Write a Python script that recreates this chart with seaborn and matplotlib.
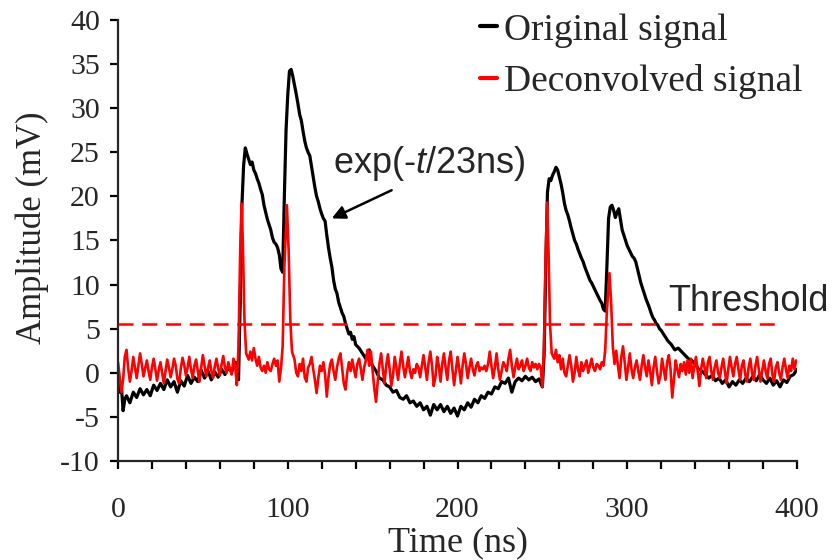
import matplotlib
matplotlib.use("Agg")
import matplotlib.pyplot as plt
import matplotlib.ticker as mticker
import seaborn as sns
import pandas as pd

# ---------------- data ----------------
t_orig = [0, 1, 2, 3, 4, 5, 7, 9, 11, 13, 15, 17, 19, 21, 23, 25, 27, 29, 31, 33, 35, 37, 39,
          41, 43, 45, 47, 49, 51, 53, 55, 57, 59, 61, 63, 65, 67, 69, 70, 71,
          72, 73, 74, 75, 76, 77, 78, 79, 80, 81, 82, 83, 84, 85, 86, 87, 88, 89, 90,
          91, 92, 93, 94, 95, 96, 97, 98, 99, 100, 101, 102, 103, 104, 105, 106, 107,
          108, 109, 110, 111, 112, 113, 114, 115, 116, 117, 118, 119, 120, 121, 122,
          123, 124, 125, 126, 127, 128, 129, 130, 131, 132, 133, 134, 135, 136, 137,
          138, 139, 140, 142, 144, 146, 148, 149, 150, 152, 154, 156, 158, 160, 162,
          164, 166, 168, 170, 172, 174, 176, 178, 180, 182, 184, 186, 188, 190, 192,
          194, 196, 198, 200, 202, 204, 206, 208, 210, 212, 214, 216, 218, 220, 222,
          224, 226, 228, 230, 232, 234, 236, 238, 240, 242, 244, 246, 248, 250,
          251, 252, 253, 254, 255, 256, 257, 258, 259, 260, 261, 262, 263, 264, 265,
          266, 267, 268, 269, 270, 271, 272, 273, 274, 275, 276, 277, 278, 279, 280,
          281, 282, 283, 284, 285, 286, 287, 288, 289, 290, 291, 292, 293, 294, 295,
          296, 297, 298, 299, 300, 301, 302, 303, 304, 305, 306, 307, 308, 309, 310,
          311, 312, 313, 314, 315, 316, 317, 318, 319, 320, 322, 324, 326, 328, 330,
          332, 334, 336, 338, 340, 342, 344, 346, 348, 350, 352, 354, 356, 358, 360,
          362, 364, 366, 368, 370, 372, 374, 376, 378, 380, 382, 384, 386, 388, 390,
          392, 394, 396, 398, 400]
v_orig = [-1.0, -2.2, -1.5, -4.3, -3.0, -2.6, -3.4, -2.2, -2.8, -1.8, -2.5, -1.9, -2.6, -1.4,
          -2.0, -1.2, -1.9, -0.8, -1.6, -1.0, -2.2, -0.9, -1.5, -0.3, -1.2, -0.5, -1.0, 0.3,
          -0.6, 0.2, -0.8, 0.1, -0.5, 0.4, -0.2, 0.6, 0.1, 1.2, 1.0, -0.8,
          8.0, 19.0, 23.5, 25.5, 24.8, 24.2, 23.6, 23.9, 23.0, 22.6, 22.0, 21.5, 20.8, 20.2,
          19.0, 18.2, 17.4, 16.8, 16.2, 15.3, 14.8, 14.6, 14.2, 13.4, 11.8, 11.4, 20.0, 27.5,
          31.5, 34.2, 34.4, 33.6, 32.6, 31.6, 30.5, 29.3, 28.6, 27.4, 26.3, 25.5, 25.0, 24.6,
          23.4, 22.2, 21.0, 20.0, 19.4, 18.6, 18.0, 17.5, 17.2, 15.6, 14.2, 13.0, 12.0, 10.5,
          9.5, 9.0, 8.0, 7.4, 6.8, 6.4, 5.6, 5.0, 4.4, 4.6, 3.8, 4.1, 3.2, 2.8, 2.2, 1.6,
          2.6, 1.2, 0.8, 0.2, -0.6, -0.8, -1.4, -1.6, -2.2, -2.0, -2.8, -3.0, -2.6, -3.4,
          -3.2, -3.8, -3.4, -4.2, -3.8, -4.8, -3.6, -4.2, -3.6, -4.4, -3.8, -4.6, -4.0, -4.9,
          -3.8, -4.2, -3.4, -3.9, -3.0, -3.4, -2.6, -2.9, -2.2, -2.4, -1.6, -1.8, -1.0, -1.2,
          -0.6, -2.2, -1.0, -0.6, -0.9, -0.4, -0.8, -0.5, -1.0, -0.7, -1.6,
          2.0, 12.0, 20.5, 22.0, 21.8, 22.4, 22.8, 23.3, 23.0, 22.2, 21.4, 20.4, 19.2, 18.4,
          17.9, 17.2, 16.4, 15.7, 15.0, 14.6, 14.0, 13.5, 13.0, 12.6, 12.0, 11.5, 11.0, 10.5,
          10.2, 9.8, 9.4, 9.0, 8.6, 8.2, 7.9, 7.2, 7.0, 12.0, 17.5, 18.8, 19.0, 18.4, 17.6,
          18.2, 18.6, 17.4, 16.2, 15.6, 15.0, 14.4, 14.0, 13.6, 13.2, 13.0, 12.6, 11.8, 11.0,
          10.2, 9.6, 9.0, 8.4, 7.9, 7.4, 6.8, 6.3, 6.0, 5.6, 5.4, 5.0, 4.8, 4.2, 3.6, 3.2,
          2.6, 2.8, 2.4, 2.0, 1.6, 1.4, 1.0, 0.4, 0.2, -0.2, -0.6, -0.3, -0.9, -0.6, -1.2,
          -0.8, -1.6, -1.0, -1.4, -0.8, -1.2, -0.6, -1.0, -0.4, -0.9, -0.2, -0.8, -1.2, -0.6,
          -1.4, -0.9, -1.6, -0.8, -1.1, -0.4, -0.2, 0.4]

t_dec = [0, 1, 2, 3, 4, 5, 6, 7, 8, 9, 10, 11, 12, 13, 14, 15, 16, 17, 18, 19, 20, 21, 22, 23,
         24, 25, 26, 27, 28, 29, 30, 31, 32, 33, 34, 35, 36, 37, 38, 39, 40, 41, 42, 43, 44,
         45, 46, 47, 48, 49, 50, 51, 52, 53, 54, 55, 56, 57, 58, 59, 60, 61, 62, 63, 64, 65,
         66, 67, 68, 69, 70, 71, 72, 72.8, 73.5, 74.5, 75.5, 77, 78, 79, 80, 81, 82, 83, 84,
         85, 86, 87, 88, 89, 90, 91, 92, 93, 94, 95, 96, 97, 98, 99.5, 100.5, 101.5, 102.5,
         104, 105, 106, 107, 108, 109, 110, 111, 112, 113, 114, 115, 116, 117, 118, 119, 120,
         121, 122, 123, 124, 125, 126, 127, 128, 129, 130, 131, 132, 133, 134, 135, 136, 137,
         138, 139, 140, 141, 142, 143, 144, 145, 146, 147, 148, 149, 150, 151, 152, 153, 154,
         155, 156, 157, 158, 159, 160, 161, 162, 163, 164, 165, 166, 167, 168, 169, 170, 171,
         172, 173, 174, 175, 176, 177, 178, 179, 180, 181, 182, 183, 184, 185, 186, 187, 188,
         189, 190, 191, 192, 193, 194, 195, 196, 197, 198, 199, 200, 201, 202, 203, 204, 205,
         206, 207, 208, 209, 210, 211, 212, 213, 214, 215, 216, 217, 218, 219, 220, 221, 222,
         223, 224, 225, 226, 227, 228, 229, 230, 231, 232, 233, 234, 235, 236, 237, 238, 239,
         240, 241, 242, 243, 244, 245, 246, 247, 248, 249, 250, 251, 252, 252.8, 253.6, 254.5,
         255.5, 257, 258, 259, 260, 261, 262, 263, 264, 265, 266, 267, 268, 269, 270, 271, 272,
         273, 274, 275, 276, 277, 278, 279, 280, 281, 282, 283, 284, 285, 286, 287, 288, 289.5,
         290.5, 291.5, 292.5, 293.5, 294.5, 295.5, 296.5, 297.5, 298.5, 299.5, 300.5, 301.5,
         302.5, 303.5, 304.5, 305.5, 306.5, 307.5, 308.5, 309.5, 310.5, 311.5, 312.5, 313.5,
         314.5, 315.5, 316.5, 317.5, 318.5, 319.5, 320.5, 321.5, 322.5, 323.5, 324.5, 325.5,
         326.5, 327.5, 328.5, 329.5, 330.5, 331.5, 332.5, 333.5, 334.5, 335.5, 336.5, 337.5,
         338.5, 339.5, 340.5, 341.5, 342.5, 343.5, 344.5, 345.5, 346.5, 347.5, 348.5, 349.5,
         350.5, 351.5, 352.5, 353.5, 354.5, 355.5, 356.5, 357.5, 358.5, 359.5, 360.5, 361.5,
         362.5, 363.5, 364.5, 365.5, 366.5, 367.5, 368.5, 369.5, 370.5, 371.5, 372.5, 373.5,
         374.5, 375.5, 376.5, 377.5, 378.5, 379.5, 380.5, 381.5, 382.5, 383.5, 384.5, 385.5,
         386.5, 387.5, 388.5, 389.5, 390.5, 391.5, 392.5, 393.5, 394.5, 395.5, 396.5, 397.5,
         398.5, 399.5]
v_dec = [1.2, -0.5, -2.2, -0.8, 1.8, 2.6, 0.5, -1.0, 0.2, 1.8, 0.6, -0.6, 0.8, 2.2, 1.0, -0.4,
         0.5, 1.4, 0.2, -0.8, 0.6, 1.6, 0.4, -0.9, 0.3, 1.2, 0.0, -1.2, 0.2, 1.5, 0.6, -0.5,
         0.4, 1.6, 0.8, -0.7, -1.2, 0.5, 1.7, 0.9, -0.3, 0.6, 1.8, 0.4, -0.6, 0.8, 1.5, 0.2,
         -1.0, 0.6, 2.0, 0.8, -0.4, 0.5, 1.4, 0.2, -0.6, 0.7, 1.6, 0.5, -0.3, 0.9, 1.9, 0.6,
         0.0, 1.2, 0.4, -0.2, 1.6, 0.8, -1.4, 3.0, 14.0, 19.2, 15.0, 6.0, 2.2, 1.5, 2.4, 1.4,
         2.8, 1.6, 0.8, 1.8, 0.6, 0.2, 0.8, 0.0, 1.2, 0.4, 0.2, 1.0, 1.6, 0.8, 1.4, -1.0, 0.5,
         3.0, 12.0, 19.0, 14.0, 6.0, 2.4, 1.5, 0.0, -0.4, 1.0, 0.2, 1.6, -0.5, -1.0, 0.6, 1.0,
         1.8, 0.4, -0.8, -2.3, -0.6, 0.8, 0.2, 1.2, -0.2, -2.7, -0.5, 1.0, 1.5, 0.2, -0.8, 0.6,
         1.6, 2.2, 0.6, -1.2, -1.9, 0.0, 1.2, 0.2, 1.5, 0.4, -0.5, 1.0, 1.6, 0.5, -0.8, 0.6,
         1.4, 2.6, 0.8, 2.4, 0.2, -1.8, -3.3, -1.0, 1.0, 2.2, 0.4, -1.2, 0.8, 2.1, 0.5, -1.5,
         -0.3, 1.8, 0.6, -0.8, 1.0, 2.4, 0.8, -0.5, 0.6, 1.8, 0.2, -0.6, 0.4, 0.0, 1.0, 0.6,
         -0.5, 0.8, 2.0, 0.6, -0.8, 1.2, 2.4, 0.8, -1.5, -0.5, 1.8, 0.8, -1.0, 1.0, 2.2, 0.6,
         -0.8, 1.4, 2.4, 0.4, -1.4, 0.2, 1.8, 0.5, -1.2, 0.8, 2.2, 1.0, -0.6, 0.6, 1.6, 0.4,
         -0.3, 0.8, 1.2, 0.2, 0.6, 0.4, 0.8, 0.2, 1.0, 2.4, 0.8, -0.6, 0.6, 2.2, 0.4, -0.8,
         0.2, 1.2, 0.8, 0.2, 1.6, 2.6, 0.8, -0.5, 0.6, 1.6, 0.4, 0.8, 1.4, 0.2, 0.8, 1.6, 0.6,
         0.2, 1.2, 0.6, 1.0, 0.4, 1.0, 0.6, -1.6, 3.0, 14.0, 19.3, 14.0, 5.5, 2.2, 1.6, 2.6,
         1.2, 2.0, 0.4, 1.6, 0.0, -0.4, 0.8, 2.0, 0.8, -1.0, 0.0, 1.8, 0.4, -0.4, 1.2, 0.2,
         0.8, 1.4, 0.0, 0.8, 1.6, 0.6, 0.2, 1.0, 0.8, 0.4, 1.2, 0.8, 2.5, 7.0, 11.3, 8.0, 3.0,
         1.0, 2.5, 0.8, -0.6, 1.8, 3.0, 1.2, -0.8, 0.6, 2.2, 0.4, -0.6, 0.6, 1.4, 0.2, -0.8,
         0.8, 2.0, 0.6, -0.4, 1.4, 0.2, -1.4, 0.6, 1.8, 0.2, -1.2, -0.4, 1.6, 0.4, -0.8, 1.2,
         2.0, 0.4, -2.8, -0.8, 1.4, 0.4, -0.5, 1.0, 0.2, 1.2, -0.2, 1.4, 0.0, 1.6, -0.6, 0.8,
         1.8, 0.2, -1.5, 0.4, 1.6, 0.6, -0.6, 1.2, 1.8, 0.2, -0.8, 0.6, 1.4, 0.0, -0.6, 0.6,
         1.6, 0.2, -1.2, 0.4, 1.8, 0.6, -0.4, 1.0, 1.8, 0.4, -0.8, 0.8, 1.4, -0.2, -1.0, 0.6,
         1.6, 0.0, -0.8, 0.8, 1.8, 0.4, -1.0, 0.2, 1.4, 0.2, -0.6, 1.0, 1.6, -0.2, -1.0, 0.6,
         1.2, 0.0, -0.8, 0.6, 1.6, 0.4, -0.6, 0.8, 0.2, 1.6, 0.4, 1.4]

series_names = ["Original signal", "Deconvolved signal"]
threshold_value = 5.5
threshold_end = 392
x_ticks = [0, 100, 200, 300, 400]
y_ticks = [-10, -5, 0, 5, 10, 15, 20, 25, 30, 35, 40]

# ---------------- style ----------------
sns.set_style("ticks")
plt.rcParams["font.family"] = ["Liberation Serif", "DejaVu Serif"]
plt.rcParams["axes.unicode_minus"] = False
plt.rcParams["mathtext.fontset"] = "custom"
plt.rcParams["mathtext.rm"] = "Liberation Sans"
plt.rcParams["mathtext.it"] = "Liberation Sans:italic"

fig = plt.figure(figsize=(8.37, 5.6), dpi=100)
ax = fig.add_axes([118 / 837, 1 - 461 / 560, 679 / 837, 441 / 560])

df_o = pd.DataFrame({"t": t_orig, "v": v_orig})
df_d = pd.DataFrame({"t": t_dec, "v": v_dec})
sns.lineplot(data=df_o, x="t", y="v", color="black", lw=2.3, ax=ax,
             label=series_names[0], estimator=None, sort=False)
sns.lineplot(data=df_d, x="t", y="v", color="#ff0000", lw=1.9, ax=ax,
             label=series_names[1], estimator=None, sort=False)

ax.hlines(threshold_value, 0, threshold_end, colors="#ff0000", linestyles=(0, (6, 3.5)),
          lw=1.8, zorder=3)

ax.set_xlim(0, 400)
ax.set_ylim(-10, 40)
ax.set_xticks(x_ticks)
ax.xaxis.set_minor_locator(mticker.MultipleLocator(20))
ax.set_yticks(y_ticks)
for s in ["top", "right"]:
    ax.spines[s].set_visible(False)
for s in ["left", "bottom"]:
    ax.spines[s].set_linewidth(1.6)
ax.tick_params(axis="both", which="both", direction="out", length=6, width=1.6,
               color="black", labelsize=21.5)
ax.tick_params(axis="y", pad=7)
ax.tick_params(axis="x", which="both", pad=20)

ax.set_xlabel("Time (ns)", fontsize=26)
ax.set_ylabel("Amplitude (mV)", fontsize=25)
ax.xaxis.set_label_coords(0.5, -0.148)
ax.yaxis.set_label_coords(-0.102, 0.53)

# annotations
ax.text(126.7, 23.7, r"exp(-$\mathit{t}$/23ns)", fontsize=26, family="Liberation Sans",
        ha="left", va="center")
ax.annotate("", xy=(125.9, 17.5), xytext=(161.2, 20.7),
            arrowprops=dict(arrowstyle="-|>,head_length=0.8,head_width=0.4",
                            color="black", lw=1.8, shrinkA=0, shrinkB=0))
ax.text(324, 8.1, "Threshold", fontsize=26, family="Liberation Sans",
        ha="left", va="center", clip_on=False)

leg = ax.legend(loc="upper left", bbox_to_anchor=(480 / 837, 1 - 13 / 560),
                bbox_transform=fig.transFigure, frameon=False, fontsize=27,
                handlelength=0.45, handletextpad=0.2, labelspacing=0.45,
                borderpad=0, borderaxespad=0)
for line in leg.get_lines():
    line.set_linewidth(3)

fig.savefig("out.png", dpi=100)
